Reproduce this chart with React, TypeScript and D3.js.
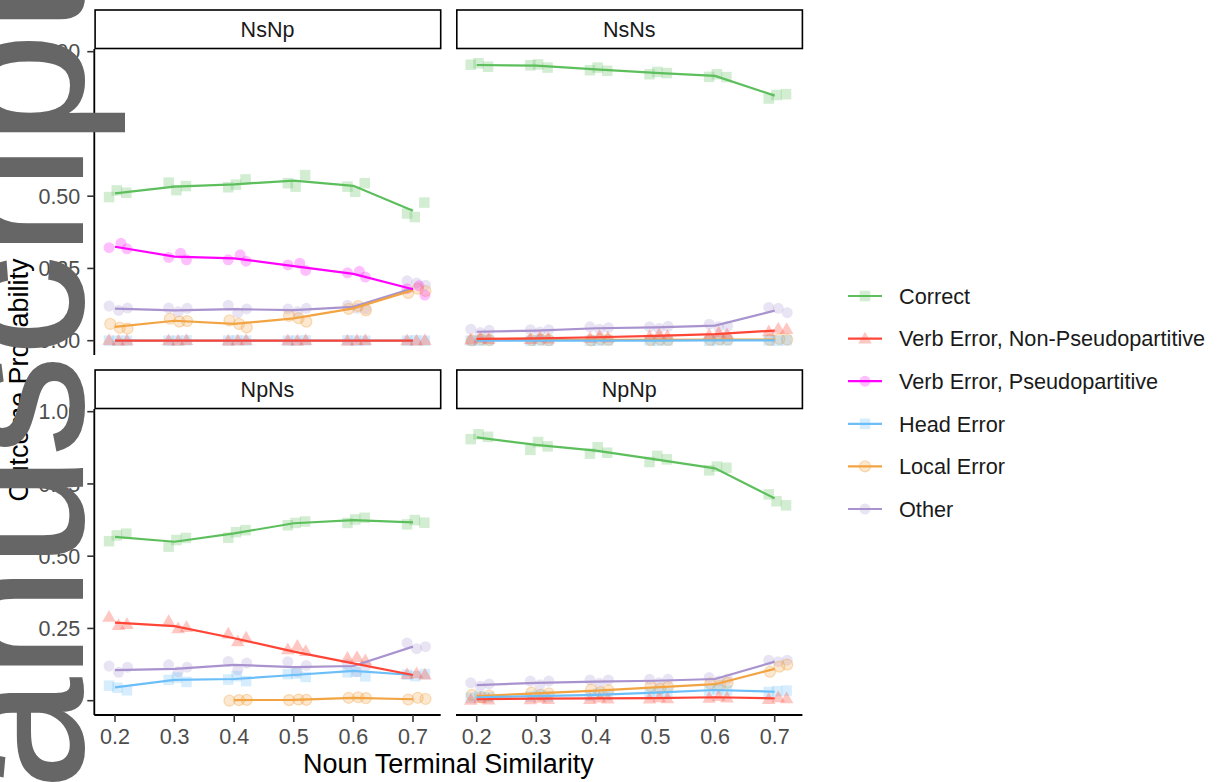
import React from "react";
import * as d3 from "d3";

// ---------- data ----------
const SIMILARITY = [0.2, 0.3, 0.4, 0.5, 0.6, 0.7];
const X_TICKS = [0.2, 0.3, 0.4, 0.5, 0.6, 0.7];
const Y_TICKS = [0, 0.25, 0.5, 0.75, 1];
const CONDITIONS = ["NsNp", "NsNs", "NpNs", "NpNp"];
const OUTCOMES = [
  "Correct",
  "Verb Error, Non-Pseudopartitive",
  "Verb Error, Pseudopartitive",
  "Head Error",
  "Local Error",
  "Other",
];
const COLORS = ["#5cbf5c", "#ff4536", "#ff00ff", "#6cbef8", "#f2a442", "#a993cf"];
const SHAPES = ["square", "triangle", "circle", "square", "circle", "circle"];
// horizontal jitter of the three runs, per outcome
const JITTER = [
  [-0.01, 0.003, 0.019],
  [-0.01, 0.006, 0.02],
  [-0.01, 0.01, 0.02],
  [-0.01, 0.004, 0.02],
  [-0.008, 0.008, 0.021],
  [-0.01, 0.006, 0.021],
];

type S = (number | null)[];
type P = (number[] | null)[];

// means (lines), outcome order as OUTCOMES
const NSNP_MEANS: (S | null)[] = [
  [0.51, 0.533, 0.541, 0.554, 0.536, 0.45],
  [0.0, 0.0, 0.0, 0.0, 0.0, 0.0],
  [0.325, 0.291, 0.285, 0.258, 0.231, 0.178],
  [0.0, 0.0, 0.0, 0.0, 0.0, 0.0],
  [0.048, 0.069, 0.058, 0.077, 0.112, 0.175],
  [0.111, 0.105, 0.109, 0.106, 0.117, 0.181],
];
const NSNS_MEANS: (S | null)[] = [
  [0.954, 0.952, 0.939, 0.927, 0.916, 0.848],
  [0.006, 0.008, 0.012, 0.017, 0.023, 0.035],
  null,
  [0.0, 0.0, 0.0, 0.0, 0.001, 0.001],
  [0.003, 0.003, 0.003, 0.003, 0.004, 0.004],
  [0.031, 0.035, 0.043, 0.046, 0.052, 0.104],
];
const NPNS_MEANS: (S | null)[] = [
  [0.567, 0.55, 0.579, 0.614, 0.625, 0.617],
  [0.27, 0.258, 0.216, 0.17, 0.129, 0.089],
  null,
  [0.046, 0.072, 0.075, 0.089, 0.103, 0.089],
  [null, null, 0.002, 0.003, 0.01, 0.005],
  [0.106, 0.11, 0.124, 0.116, 0.12, 0.187],
];
const NPNP_MEANS: (S | null)[] = [
  [0.911, 0.885, 0.865, 0.835, 0.804, 0.7],
  [0.005, 0.007, 0.008, 0.009, 0.012, 0.008],
  null,
  [0.012, 0.016, 0.02, 0.028, 0.037, 0.031],
  [0.016, 0.025, 0.035, 0.046, 0.057, 0.11],
  [0.054, 0.062, 0.066, 0.069, 0.075, 0.135],
];

// individual runs (points)
const NSNP_POINTS: (P | null)[] = [
  [[0.497, 0.52, 0.512], [0.547, 0.521, 0.535], [0.531, 0.54, 0.558], [0.545, 0.533, 0.573], [0.533, 0.515, 0.545], [0.44, 0.428, 0.478]],
  [[0.002, 0.0, 0.001], [0.001, 0.0, 0.002], [0.0, 0.001, 0.002], [0.001, 0.0, 0.002], [0.0, 0.001, 0.002], [0.001, 0.0, 0.002]],
  [[0.322, 0.337, 0.318], [0.288, 0.303, 0.28], [0.28, 0.297, 0.275], [0.262, 0.268, 0.243], [0.235, 0.24, 0.22], [0.18, 0.19, 0.158]],
  [[0.0, 0.0, 0.0], [0.0, 0.0, 0.001], [0.0, 0.001, 0.0], [0.0, 0.0, 0.001], [0.001, 0.0, 0.0], [0.0, 0.001, 0.0]],
  [[0.058, 0.045, 0.042], [0.076, 0.066, 0.068], [0.07, 0.058, 0.046], [0.086, 0.078, 0.066], [0.11, 0.12, 0.105], [0.165, 0.18, 0.172]],
  [[0.12, 0.105, 0.113], [0.113, 0.1, 0.112], [0.123, 0.096, 0.11], [0.11, 0.1, 0.112], [0.123, 0.112, 0.11], [0.207, 0.2, 0.192]],
];
const NSNS_POINTS: (P | null)[] = [
  [[0.955, 0.96, 0.948], [0.953, 0.956, 0.945], [0.936, 0.945, 0.934], [0.922, 0.93, 0.926], [0.913, 0.922, 0.912], [0.838, 0.85, 0.853]],
  [[0.004, 0.01, 0.006], [0.006, 0.012, 0.007], [0.01, 0.017, 0.011], [0.015, 0.022, 0.016], [0.02, 0.028, 0.022], [0.032, 0.042, 0.04]],
  null,
  [[0.0, 0.0, 0.001], [0.0, 0.001, 0.0], [0.0, 0.0, 0.001], [0.001, 0.0, 0.0], [0.0, 0.001, 0.001], [0.001, 0.0, 0.001]],
  [[0.001, 0.004, 0.002], [0.002, 0.004, 0.002], [0.001, 0.005, 0.003], [0.002, 0.004, 0.003], [0.003, 0.005, 0.004], [0.003, 0.006, 0.004]],
  [[0.04, 0.028, 0.036], [0.038, 0.03, 0.038], [0.048, 0.04, 0.045], [0.048, 0.042, 0.05], [0.057, 0.048, 0.05], [0.115, 0.112, 0.097]],
];
const NPNS_POINTS: (P | null)[] = [
  [[0.552, 0.572, 0.578], [0.533, 0.556, 0.563], [0.564, 0.583, 0.59], [0.607, 0.615, 0.62], [0.615, 0.627, 0.633], [0.61, 0.625, 0.616]],
  [[0.29, 0.262, 0.265], [0.275, 0.25, 0.255], [0.232, 0.205, 0.218], [0.178, 0.19, 0.172], [0.148, 0.151, 0.14], [0.092, 0.095, 0.09]],
  null,
  [[0.052, 0.045, 0.036], [0.072, 0.08, 0.065], [0.073, 0.085, 0.068], [0.092, 0.094, 0.082], [0.098, 0.1, 0.084], [0.09, 0.085, 0.092]],
  [null, null, [0.0, 0.002, 0.003], [0.002, 0.004, 0.003], [0.01, 0.012, 0.009], [0.004, 0.01, 0.006]],
  [[0.12, 0.098, 0.116], [0.124, 0.1, 0.116], [0.136, 0.107, 0.13], [0.135, 0.1, 0.122], [0.125, 0.1, 0.12], [0.2, 0.18, 0.187]],
];
const NPNP_POINTS: (P | null)[] = [
  [[0.905, 0.922, 0.913], [0.868, 0.895, 0.88], [0.855, 0.877, 0.858], [0.826, 0.847, 0.835], [0.797, 0.81, 0.806], [0.714, 0.69, 0.676]],
  [[0.003, 0.008, 0.004], [0.005, 0.01, 0.006], [0.006, 0.011, 0.007], [0.007, 0.012, 0.008], [0.01, 0.016, 0.011], [0.006, 0.012, 0.008]],
  null,
  [[0.01, 0.015, 0.012], [0.014, 0.02, 0.015], [0.018, 0.024, 0.02], [0.025, 0.032, 0.027], [0.035, 0.04, 0.036], [0.03, 0.033, 0.035]],
  [[0.02, 0.012, 0.018], [0.028, 0.02, 0.025], [0.038, 0.03, 0.036], [0.05, 0.042, 0.048], [0.06, 0.052, 0.062], [0.1, 0.118, 0.125]],
  [[0.062, 0.05, 0.058], [0.068, 0.055, 0.068], [0.072, 0.06, 0.072], [0.074, 0.062, 0.074], [0.08, 0.068, 0.075], [0.14, 0.135, 0.14]],
];

const MEANS = [NSNP_MEANS, NSNS_MEANS, NPNS_MEANS, NPNP_MEANS];
const POINTS = [NSNP_POINTS, NSNS_POINTS, NPNS_POINTS, NPNP_POINTS];

// ---------- layout ----------
const W = 1218;
const H = 782;
const FONT = "'Liberation Sans', Arial, Helvetica, sans-serif";
const PANEL_W = 346.4;
const PANEL_H = 306;
const STRIP_H = 39;
const COL_X = [94.3, 456];
const ROW_Y = [49, 409];
const X_DOMAIN = [0.16527, 0.74648];
const Y_DOMAIN = [-0.0495, 1.0093];
const DRAW_ORDER = [5, 4, 3, 2, 1, 0];
const TICK_FS = 21.5;

function Marker({ shape, x, y, color }: { shape: string; x: number; y: number; color: string }) {
  if (shape === "square") {
    const s = 10.5;
    return <rect x={x - s / 2} y={y - s / 2} width={s} height={s} fill={color} fillOpacity={0.28} />;
  }
  if (shape === "triangle") {
    const sym = d3.symbol().type(d3.symbolTriangle).size(80)();
    return <path d={sym as string} transform={`translate(${x},${y + 1})`} fill={color} fillOpacity={0.3} />;
  }
  return (
    <circle
      cx={x}
      cy={y}
      r={5.5}
      fill={color}
      fillOpacity={0.25}
      stroke={color}
      strokeOpacity={color === "#f2a442" ? 0.35 : 0.0}
      strokeWidth={1.2}
    />
  );
}

function Panel({ idx }: { idx: number }) {
  const col = idx % 2;
  const row = Math.floor(idx / 2);
  const x0 = COL_X[col];
  const y0 = ROW_Y[row];
  const xs = d3.scaleLinear().domain(X_DOMAIN).range([x0, x0 + PANEL_W]);
  const ys = d3.scaleLinear().domain(Y_DOMAIN).range([y0 + PANEL_H, y0]);
  const means = MEANS[idx];
  const points = POINTS[idx];
  const line = d3
    .line<number | null>()
    .defined((d) => d !== null)
    .x((_, i) => xs(SIMILARITY[i]))
    .y((d) => ys(d as number));

  return (
    <g>
      {/* strip */}
      <rect x={x0 + 0.8} y={y0 - STRIP_H} width={PANEL_W - 0.8} height={STRIP_H - 0.5} fill="#fff" stroke="#000" strokeWidth={1.6} />
      <text x={x0 + PANEL_W / 2} y={y0 - STRIP_H / 2} dy="0.36em" textAnchor="middle" fontSize={TICK_FS} fill="#1a1a1a" fontFamily={FONT}>
        {CONDITIONS[idx]}
      </text>
      {/* points */}
      {DRAW_ORDER.map((o) => {
        const pts = points[o];
        if (!pts) return null;
        return (
          <g key={"p" + o}>
            {pts.map((triple, i) =>
              triple
                ? triple.map((v, k) => (
                    <Marker key={i + "-" + k} shape={SHAPES[o]} x={xs(SIMILARITY[i] + JITTER[o][k])} y={ys(v)} color={COLORS[o]} />
                  ))
                : null
            )}
          </g>
        );
      })}
      {/* lines */}
      {DRAW_ORDER.map((o) => {
        const m = means[o];
        if (!m) return null;
        return <path key={"l" + o} d={line(m) as string} fill="none" stroke={COLORS[o]} strokeWidth={2.2} />;
      })}
      {/* axes */}
      {col === 0 && (
        <g>
          <line x1={x0} x2={x0} y1={y0} y2={y0 + PANEL_H} stroke="#000" strokeWidth={1.8} />
          {Y_TICKS.map((t) => (
            <g key={t}>
              <line x1={x0 - 7} x2={x0} y1={ys(t)} y2={ys(t)} stroke="#333" strokeWidth={1.6} />
              <text x={x0 - 14} y={ys(t)} dy="0.36em" textAnchor="end" fontSize={TICK_FS} fill="#4d4d4d" fontFamily={FONT}>
                {d3.format(".2f")(t)}
              </text>
            </g>
          ))}
        </g>
      )}
      {row === 1 && (
        <g>
          <line x1={x0} x2={x0 + PANEL_W} y1={y0 + PANEL_H} y2={y0 + PANEL_H} stroke="#000" strokeWidth={1.8} />
          {X_TICKS.map((t) => (
            <g key={t}>
              <line x1={xs(t)} x2={xs(t)} y1={y0 + PANEL_H} y2={y0 + PANEL_H + 7} stroke="#333" strokeWidth={1.6} />
              <text x={xs(t)} y={y0 + PANEL_H + 28.5} textAnchor="middle" fontSize={TICK_FS} fill="#4d4d4d" fontFamily={FONT}>
                {d3.format(".1f")(t)}
              </text>
            </g>
          ))}
        </g>
      )}
    </g>
  );
}

function Legend() {
  const x0 = 848;
  const y0 = 296;
  const step = 42.6;
  return (
    <g>
      {OUTCOMES.map((name, i) => {
        const y = y0 + i * step;
        return (
          <g key={name}>
            <Marker shape={SHAPES[i]} x={x0 + 17} y={y} color={COLORS[i]} />
            <line x1={x0} x2={x0 + 34} y1={y} y2={y} stroke={COLORS[i]} strokeWidth={2.2} />
            <text x={x0 + 51} y={y} dy="0.36em" fontSize={21.7} fill="#1a1a1a" fontFamily={FONT}>
              {name}
            </text>
          </g>
        );
      })}
    </g>
  );
}

export default function App() {
  return (
    <svg width={W} height={H} style={{ position: "absolute", left: 0, top: 0, background: "#fff" }} fontFamily={FONT}>
      <rect width={W} height={H} fill="#fff" />
      {CONDITIONS.map((c, i) => (
        <Panel key={c} idx={i} />
      ))}
      <text x={448.4} y={773} textAnchor="middle" fontSize={27} fill="#000" fontFamily={FONT}>
        Noun Terminal Similarity
      </text>
      <text transform="translate(28,380) rotate(-90)" textAnchor="middle" fontSize={27} fill="#000" fontFamily={FONT}>
        Outcome Probability
      </text>
      <Legend />
      {/* manuscript watermark */}
      <text
        transform="translate(82,-22) rotate(-90)"
        textAnchor="end"
        fontSize={200}
        fill="#666666"
        stroke="#666666"
        strokeWidth={2}
        fontFamily={FONT}
      >
        Manuscript
      </text>
    </svg>
  );
}
